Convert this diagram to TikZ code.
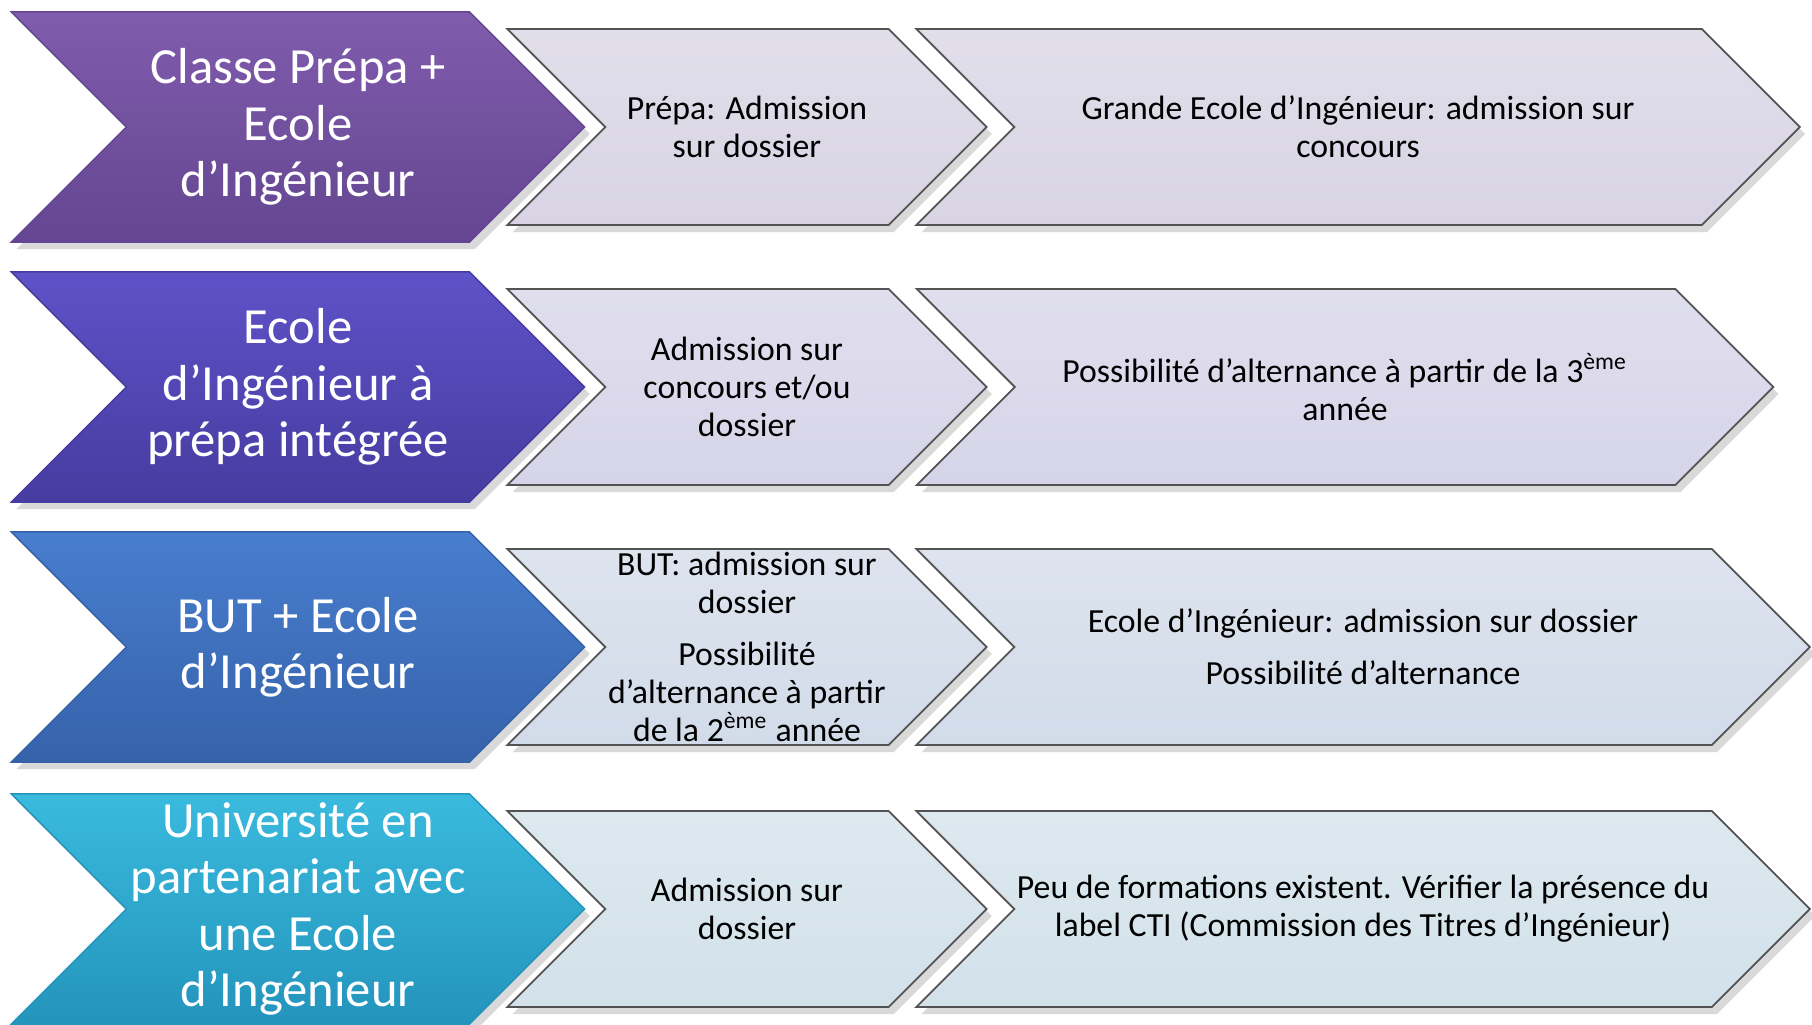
\documentclass[tikz,border=0pt]{standalone}
\usepackage{fontspec}
\setmainfont{Carlito}
\usetikzlibrary{shapes.symbols, positioning, shadows}

\definecolor{PrepaPurple}{RGB}{128, 92, 172}
\definecolor{PrepaPurpleDark}{RGB}{100, 70, 146}
\definecolor{IntegIndigo}{RGB}{94, 82, 200}
\definecolor{IntegIndigoDark}{RGB}{70, 60, 160}
\definecolor{ButBlue}{RGB}{72, 126, 206}
\definecolor{ButBlueDark}{RGB}{54, 98, 170}
\definecolor{UnivCyan}{RGB}{58, 186, 222}
\definecolor{UnivCyanDark}{RGB}{36, 148, 188}
\definecolor{GreyLilac}{RGB}{216, 212, 228}
\definecolor{GreyViolet}{RGB}{214, 212, 232}
\definecolor{GreyBlue}{RGB}{210, 219, 233}
\definecolor{GreyCyan}{RGB}{210, 225, 234}

\tikzset{
  chevron/.style={signal, signal from=west, signal to=east, signal pointer angle=90,
    inner sep=0pt, align=center,
    drop shadow={opacity=0.3, shadow xshift=1.5pt, shadow yshift=-2pt}},
  cursus/.style={chevron, minimum width=5.73cm, minimum height=2.30cm, text=white,
    font=\fontsize{14.4}{16}\selectfont, top color=#1, bottom color=#1Dark, draw=#1Dark},
  etape/.style={chevron, minimum height=1.96cm, text=black,
    font=\fontsize{9.6}{10.8}\selectfont, top color=#1!75!white, bottom color=#1,
    draw=gray!65!black, line width=0.5pt}
}

\begin{document}
\begin{tikzpicture}[x=0.01cm, y=-0.01cm]
  \useasboundingbox (0,0) rectangle (1812,1024);

  % Classe prepa
  \node[cursus=PrepaPurple] (prepa) at (298,127) {Classe Prépa +\\Ecole\\d’Ingénieur};
  \node[etape=GreyLilac, minimum width=4.79cm] (prepaAdm) at (747,127) {Prépa: Admission\\sur dossier};
  \node[etape=GreyLilac, minimum width=8.83cm] (prepaEcole) at (1358,127) {Grande Ecole d’Ingénieur: admission sur\\concours};

  % Prepa integree
  \node[cursus=IntegIndigo] (integ) at (298,387) {Ecole\\d’Ingénieur à\\prépa intégrée};
  \node[etape=GreyViolet, minimum width=4.79cm] (integAdm) at (747,387) {Admission sur\\concours et/ou\\dossier};
  \node[etape=GreyViolet, minimum width=8.56cm] (integAlt) at (1345,387) {Possibilité d’alternance à partir de la 3\textsuperscript{ème}\\année};

  % BUT
  \node[cursus=ButBlue] (but) at (298,647) {BUT + Ecole\\d’Ingénieur};
  \node[etape=GreyBlue, minimum width=4.79cm] (butAdm) at (747,647) {BUT: admission sur\\dossier\\[4pt]Possibilité\\d’alternance à partir\\de la 2\textsuperscript{ème} année};
  \node[etape=GreyBlue, minimum width=8.93cm] (butEcole) at (1363,647) {Ecole d’Ingénieur: admission sur dossier\\[4pt]Possibilité d’alternance};

  % Universite
  \node[cursus=UnivCyan] (univ) at (298,909) {Université en\\partenariat avec\\une Ecole\\d’Ingénieur};
  \node[etape=GreyCyan, minimum width=4.79cm] (univAdm) at (747,909) {Admission sur\\dossier};
  \node[etape=GreyCyan, minimum width=8.93cm] (univCti) at (1363,909) {Peu de formations existent. Vérifier la présence du\\label CTI (Commission des Titres d’Ingénieur)};
\end{tikzpicture}
\end{document}
